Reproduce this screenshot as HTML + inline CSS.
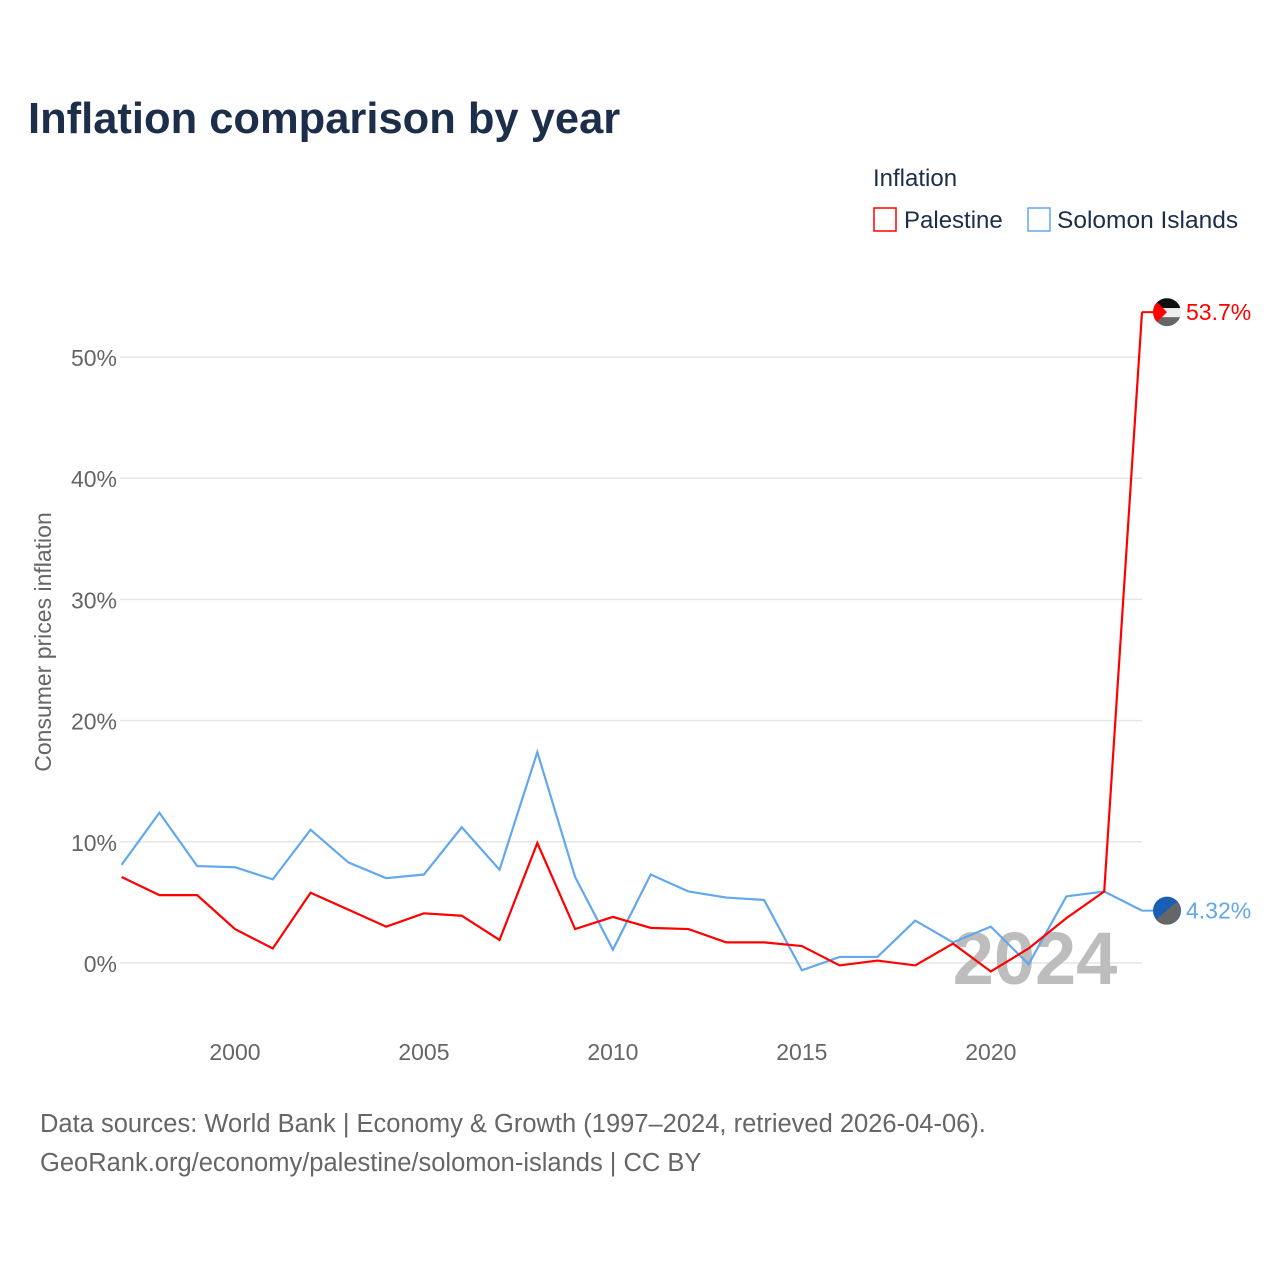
<!DOCTYPE html>
<html><head><meta charset="utf-8"><style>
body{margin:0;background:#fff;width:1280px;height:1280px;overflow:hidden;font-family:"Liberation Sans",sans-serif}
</style></head><body>
<svg width="1280" height="1280">
<text x="28" y="133" font-size="43.5" font-weight="bold" fill="#1c2e4a">Inflation comparison by year</text>
<text x="873" y="186" font-size="24" fill="#1c2e4a">Inflation</text>
<g><rect x="874" y="208" width="22" height="23" fill="none" stroke="#ff0000" stroke-width="1.5"/><text x="904" y="228" font-size="24" fill="#1c2e4a">Palestine</text></g>
<g><rect x="1028" y="208" width="22" height="23" fill="none" stroke="#63a8ec" stroke-width="1.5"/><text x="1057" y="228" font-size="24.5" fill="#1c2e4a">Solomon Islands</text></g>
<g id="grid"></g><g id="yt"></g><g id="xt"></g>
<text x="1035" y="984" font-size="74" font-weight="bold" fill="#bdbdbd" text-anchor="middle">2024</text>
<g id="series"></g>
<text transform="translate(51,642) rotate(-90)" font-size="23" fill="#666" text-anchor="middle">Consumer prices inflation</text>
<text x="40" y="1132" font-size="25.5" fill="#666">Data sources: World Bank | Economy &amp; Growth (1997–2024, retrieved 2026-04-06).</text>
<text x="40" y="1171" font-size="25.5" fill="#666">GeoRank.org/economy/palestine/solomon-islands | CC BY</text>
</svg>
<script>
const years=[1997,1998,1999,2000,2001,2002,2003,2004,2005,2006,2007,2008,2009,2010,2011,2012,2013,2014,2015,2016,2017,2018,2019,2020,2021,2022,2023,2024];
const palestine=[7.1,5.6,5.6,2.8,1.2,5.8,4.4,3.0,4.1,3.9,1.9,9.9,2.8,3.8,2.9,2.8,1.7,1.7,1.4,-0.2,0.2,-0.2,1.6,-0.7,1.2,3.7,5.9,53.7];
const solomon=[8.1,12.4,8.0,7.9,6.9,11.0,8.3,7.0,7.3,11.2,7.7,17.4,7.1,1.1,7.3,5.9,5.4,5.2,-0.6,0.5,0.5,3.5,1.7,3.0,-0.1,5.5,5.9,4.32];
const yTicks=[0,10,20,30,40,50];
const xTicks=[2000,2005,2010,2015,2020];
const NS="http://www.w3.org/2000/svg";
const X=y=>121.6+(y-1997)*(1142-121.6)/27;
const Y=v=>963-v*12.12;
function mk(t,a,p){const e=document.createElementNS(NS,t);for(const k in a)e.setAttribute(k,a[k]);p.appendChild(e);return e;}
const grid=document.getElementById('grid'),yt=document.getElementById('yt'),xt=document.getElementById('xt'),sg=document.getElementById('series');
yTicks.forEach(v=>{
 const l=mk('line',{x1:120,x2:1142,y1:Y(v),y2:Y(v),stroke:'#e6e6e6','stroke-width':1.5},grid);
 
 
 const t=mk('text',{x:117,y:Y(v)+9,'font-size':23,fill:'#666','text-anchor':'end'},yt);t.textContent=v+'%';
 
 
});
xTicks.forEach(v=>{
 const t=mk('text',{x:X(v),y:1060,'font-size':23,fill:'#666','text-anchor':'middle'},xt);t.textContent=v;
 
 
});
function line(vals,col,name){
 const p=mk('polyline',{points:vals.map((v,i)=>X(years[i])+','+Y(v)).join(' '),fill:'none',stroke:col,'stroke-width':2.2,'stroke-linejoin':'miter'},sg);
 
 
}
line(solomon,'#63a8ec','solomon-islands-line');
line(palestine,'#ff0000','palestine-line');
const lastP=palestine[palestine.length-1],lastS=solomon[solomon.length-1];
const pl=mk('line',{x1:X(2024),x2:1156,y1:Y(lastP),y2:Y(lastP),stroke:'#ff0000','stroke-width':2},sg);


const sl=mk('line',{x1:X(2024),x2:1156,y1:Y(lastS),y2:Y(lastS),stroke:'#63a8ec','stroke-width':2},sg);


let g=mk('g',{},sg);
let cy=Y(lastP);
const cp=mk('clipPath',{id:'c1'},g);
mk('circle',{cx:1167,cy:cy,r:14},cp);
let gc=mk('g',{'clip-path':'url(#c1)'},g);
mk('rect',{x:1153,y:cy-14,width:28,height:10,fill:'#111'},gc);
mk('rect',{x:1153,y:cy-4,width:28,height:9,fill:'#eee'},gc);
mk('rect',{x:1153,y:cy+5,width:28,height:10,fill:'#666'},gc);
mk('polygon',{points:`1153,${cy-14} 1167,${cy} 1153,${cy+14}`,fill:'#ff0000'},gc);
let t=mk('text',{x:1186,y:cy+8,'font-size':23,fill:'#ff0000'},sg);t.textContent=lastP+'%';


cy=Y(lastS);
let g2=mk('g',{},sg);
mk('circle',{cx:1167,cy:cy,r:14,fill:'#1a5fb4'},g2);
mk('path',{d:`M1156,${cy+9} L1177,${cy-9} A14,14 0 0 1 1167,${cy+14} A14,14 0 0 1 1156,${cy+9}Z`,fill:'#666'},g2);
t=mk('text',{x:1186,y:cy+8,'font-size':23,fill:'#63a8ec'},sg);t.textContent=lastS+'%';


</script>
</body></html>
